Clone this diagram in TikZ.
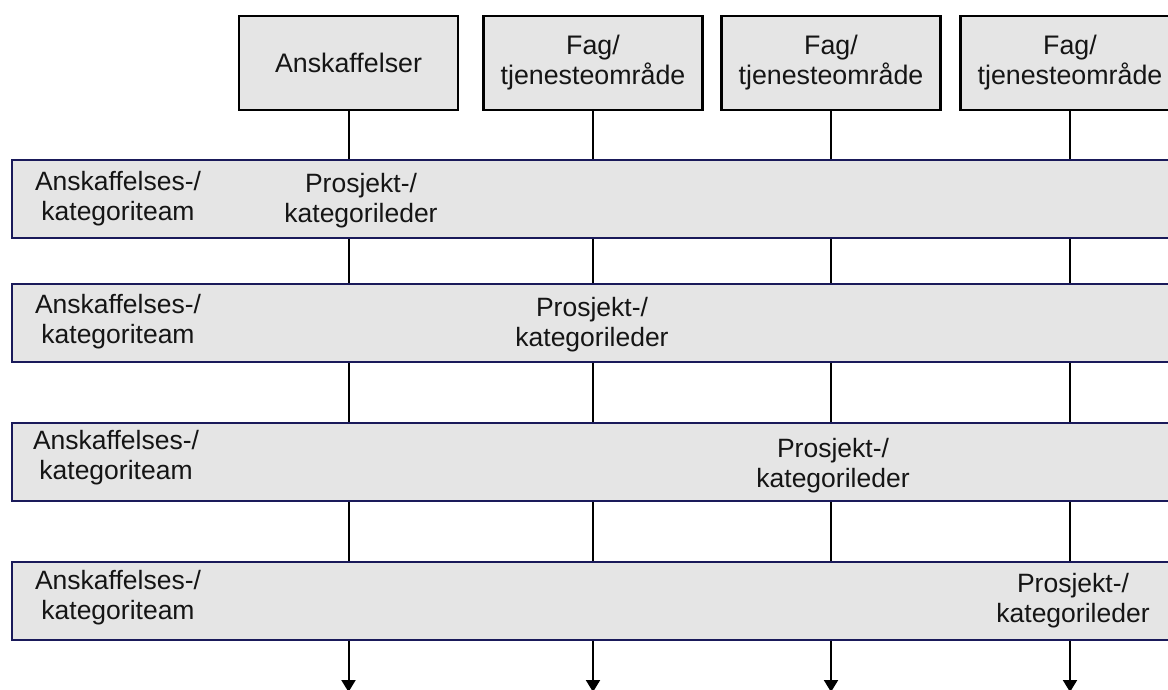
\documentclass[tikz,border=0pt]{standalone}
\usepackage{fontspec}
\setmainfont{Liberation Sans}
\definecolor{panelgray}{RGB}{229, 229, 229}
\definecolor{bandnavy}{RGB}{26, 26, 90}
\definecolor{inkgray}{HTML}{151515}
\usetikzlibrary{arrows.meta, positioning}

\begin{document}
\begin{tikzpicture}[
    x=1pt, y=-1pt,
    unit/.style={rectangle, draw=black, line width=2.5pt, fill=panelgray,
                 minimum width=219pt, minimum height=94pt, align=center,
                 text=inkgray, font=\fontsize{26.8}{30}\selectfont},
    band/.style={rectangle, draw=bandnavy, line width=2pt, fill=panelgray,
                 minimum width=1200pt, minimum height=78pt, anchor=west},
    lbl/.style={align=center, inner sep=0pt, text=inkgray,
                font=\fontsize{26.5}{30}\selectfont},
    link/.style={line width=2pt},
    arr/.style={link, -{Triangle[width=14pt, length=12pt]}}
  ]
    \clip (0,0) rectangle (1168,689);

    % columns
    \node[unit] (ansk) at (348.5,63) {Anskaffelser};
    \node[unit] (fag1) at (593,63)   {Fag/\\tjenesteområde};
    \node[unit] (fag2) at (831,63)   {Fag/\\tjenesteområde};
    \node[unit] (fag3) at (1070,63)  {Fag/\\tjenesteområde};

    % team bands
    \node[band] (team1) at (11,199)   {};
    \node[band] (team2) at (11,322.5) {};
    \node[band] (team3) at (11,462)   {};
    \node[band] (team4) at (11,600.5) {};

    \coordinate (floor) at (0,692);

    \node[lbl] (kat1) at (118,199)   {Anskaffelses-/\\kategoriteam};
    \node[lbl] (kat2) at (118,322)   {Anskaffelses-/\\kategoriteam};
    \node[lbl] (kat3) at (116,458)   {Anskaffelses-/\\kategoriteam};
    \node[lbl] (kat4) at (118,598)   {Anskaffelses-/\\kategoriteam};

    \node[lbl] (lead1) at (361,201)  {Prosjekt-/\\kategorileder};
    \node[lbl] (lead2) at (592,325)  {Prosjekt-/\\kategorileder};
    \node[lbl] (lead3) at (833,466)  {Prosjekt-/\\kategorileder};
    \node[lbl] (lead4) at (1073,601) {Prosjekt-/\\kategorileder};

    \draw[link] (ansk) -- (ansk |- team1.north)
                (ansk |- team1.south) -- (ansk |- team2.north)
                (ansk |- team2.south) -- (ansk |- team3.north)
                (ansk |- team3.south) -- (ansk |- team4.north);
    \draw[link] (fag1) -- (fag1 |- team1.north)
                (fag1 |- team1.south) -- (fag1 |- team2.north)
                (fag1 |- team2.south) -- (fag1 |- team3.north)
                (fag1 |- team3.south) -- (fag1 |- team4.north);
    \draw[link] (fag2) -- (fag2 |- team1.north)
                (fag2 |- team1.south) -- (fag2 |- team2.north)
                (fag2 |- team2.south) -- (fag2 |- team3.north)
                (fag2 |- team3.south) -- (fag2 |- team4.north);
    \draw[link] (fag3) -- (fag3 |- team1.north)
                (fag3 |- team1.south) -- (fag3 |- team2.north)
                (fag3 |- team2.south) -- (fag3 |- team3.north)
                (fag3 |- team3.south) -- (fag3 |- team4.north);

    \draw[arr] (ansk |- team4.south) -- (ansk |- floor);
    \draw[arr] (fag1 |- team4.south) -- (fag1 |- floor);
    \draw[arr] (fag2 |- team4.south) -- (fag2 |- floor);
    \draw[arr] (fag3 |- team4.south) -- (fag3 |- floor);
  \end{tikzpicture}
\end{document}
